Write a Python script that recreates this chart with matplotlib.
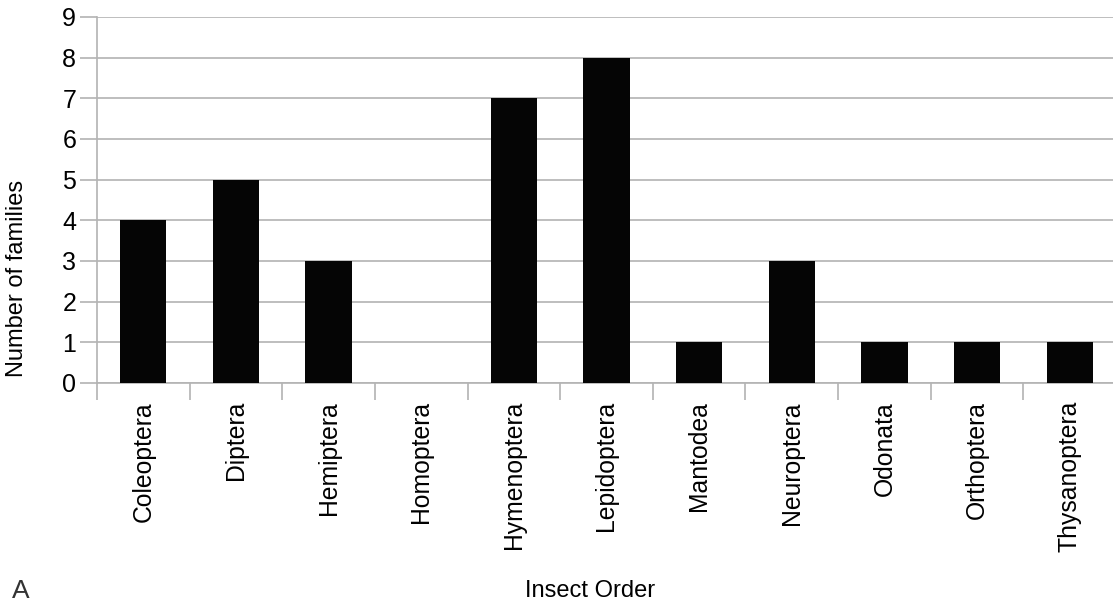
import matplotlib.pyplot as plt
import numpy as np

# data
orders = ["Coleoptera", "Diptera", "Hemiptera", "Homoptera", "Hymenoptera",
          "Lepidoptera", "Mantodea", "Neuroptera", "Odonata", "Orthoptera",
          "Thysanoptera"]
families = [4, 5, 3, 0, 7, 8, 1, 3, 1, 1, 1]

plt.rcParams['font.family'] = ['Liberation Sans', 'DejaVu Sans']

fig = plt.figure(figsize=(11.13, 6.06), dpi=100)
# axes runs slightly past the right edge, like the original
ax = fig.add_axes([97 / 1113, 1 - 383 / 606, (1116 - 97) / 1113, 366 / 606])

grid_col = "#b3b3b3"
x = np.arange(len(orders))
ax.bar(x, families, width=0.5, color="#050505", linewidth=0, zorder=3)

ax.set_xlim(-0.5, len(orders) - 0.5)
ax.set_ylim(0, 9)
ax.set_yticks(range(0, 10))
ax.yaxis.grid(True, color=grid_col, linewidth=1.2, zorder=0)

ax.set_xticks(x)
ax.set_xticklabels(orders, rotation=90, fontsize=17.8)
ax.set_xticks(np.arange(-0.5, len(orders), 1), minor=True)
ax.tick_params(axis="x", which="major", length=0, pad=13)
ax.tick_params(axis="x", which="minor", length=12, color=grid_col, width=1.2)
ax.tick_params(axis="y", length=12, color=grid_col, width=1.2, labelsize=18, pad=3)

for s in ["top", "right"]:
    ax.spines[s].set_visible(False)
for s in ["left", "bottom"]:
    ax.spines[s].set_color(grid_col)
    ax.spines[s].set_linewidth(1.2)

fig.text(17 / 1113, 1 - 278 / 606, "Number of families", rotation=90,
         ha="center", va="center", fontsize=17)
fig.text(590 / 1113, 1 - 591 / 606, "Insect Order", ha="center", va="center", fontsize=17)
fig.text(21 / 1113, 1 - 591 / 606, "A", ha="center", va="center", fontsize=19, color="#333333")

fig.savefig("out.png", dpi=100)
